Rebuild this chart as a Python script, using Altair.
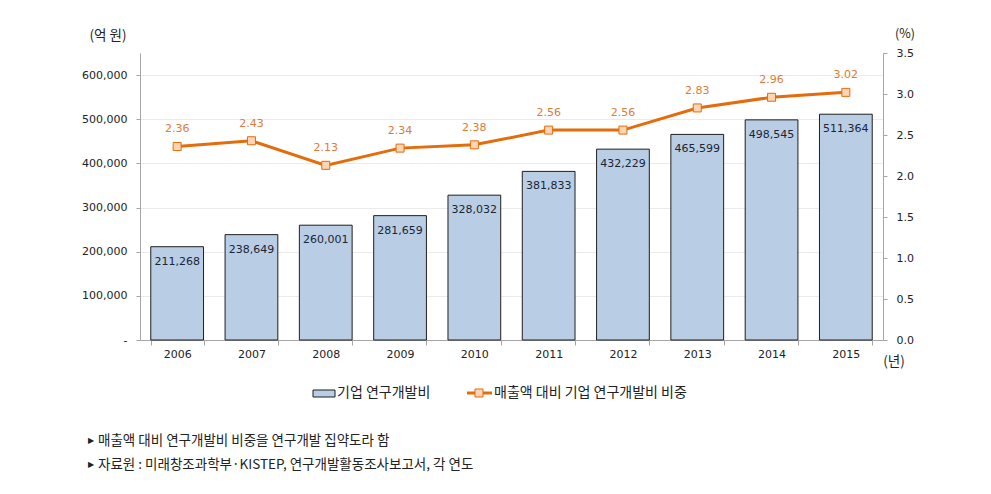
import altair as alt
import pandas as pd

years = ["2006", "2007", "2008", "2009", "2010", "2011", "2012", "2013", "2014", "2015"]
rd_spend = [211268, 238649, 260001, 281659, 328032, 381833, 432229, 465599, 498545, 511364]
rd_ratio = [2.36, 2.43, 2.13, 2.34, 2.38, 2.56, 2.56, 2.83, 2.96, 3.02]

left_ticks = [0, 100000, 200000, 300000, 400000, 500000, 600000]
right_ticks = [0.0, 0.5, 1.0, 1.5, 2.0, 2.5, 3.0, 3.5]

bar_name = "기업 연구개발비"
line_name = "매출액 대비 기업 연구개발비 비중"
unit_left = "(억 원)"
unit_right = "(%)"
unit_x = "(년)"
notes = ["매출액 대비 연구개발비 비중을 연구개발 집약도라 함",
         "자료원 : 미래창조과학부·KISTEP, 연구개발활동조사보고서, 각 연도"]

df = pd.DataFrame({"year": years, "rd": rd_spend, "ratio": rd_ratio})

NUMFONT = "DejaVu Sans"
KFONT = "Noto Sans CJK KR"
ORANGE = "#E46C0A"

x_enc = alt.X("year:N", title=None, sort=years,
              scale=alt.Scale(paddingInner=0.29, paddingOuter=0.145),
              axis=alt.Axis(labelAngle=0, tickBand="extent", domainColor="#A6A6A6",
                            tickColor="#A6A6A6", tickSize=5, labelFont=NUMFONT,
                            labelFontSize=11, labelColor="#222222", labelPadding=3))

y_left = alt.Y("rd:Q", title=None,
               scale=alt.Scale(domain=[0, 650000], nice=False),
               axis=alt.Axis(values=left_ticks, tickSize=4, labelPadding=9,
                             labelExpr="datum.value == 0 ? '-' : format(datum.value, ',')",
                             labelFont=NUMFONT, labelFontSize=11, labelColor="#222222",
                             domainColor="#A6A6A6", tickColor="#A6A6A6",
                             grid=True, gridColor="#EBEBEB"))

y_right = alt.Y("ratio:Q", title=None,
                scale=alt.Scale(domain=[0, 3.5], nice=False),
                axis=alt.Axis(orient="right", values=right_ticks, format=".1f",
                              tickSize=4, labelPadding=9, labelFont=NUMFONT,
                              labelFontSize=11, labelColor="#222222",
                              domainColor="#A6A6A6", tickColor="#A6A6A6", grid=False))

base = alt.Chart(df)

bars = base.mark_bar(color="#B9CDE5", stroke="#1F1F1F", strokeWidth=1).encode(x=x_enc, y=y_left)
bar_labels = base.mark_text(dy=15, font=NUMFONT, fontSize=11, color="#1B2533").encode(
    x=x_enc, y=y_left, text=alt.Text("rd:Q", format=","))

line = base.mark_line(color=ORANGE, strokeWidth=3).encode(x=x_enc, y=y_right)
points = base.mark_point(shape="square", filled=True, size=64, fill="#FCD5B5",
                         stroke=ORANGE, strokeWidth=1, opacity=1).encode(x=x_enc, y=y_right)
line_labels = base.mark_text(dy=-17, font=NUMFONT, fontSize=11, color="#E07B39").encode(
    x=x_enc, y=y_right, text=alt.Text("ratio:Q", format=".2f"))

left_group = alt.layer(bars, bar_labels)
right_group = alt.layer(line, points, line_labels)

def txt(t, x, y, font=KFONT, size=12, align="left", color="#222222"):
    return alt.Chart(pd.DataFrame({"t": [t]})).mark_text(
        font=font, fontSize=size, align=align, baseline="middle", color=color
    ).encode(x=alt.value(x), y=alt.value(y), text="t:N")

one = pd.DataFrame({"k": [0]})
leg_rect = alt.Chart(one).mark_rect(fill="#B9CDE5", stroke="#1F1F1F", strokeWidth=1).encode(
    x=alt.value(173), x2=alt.value(195), y=alt.value(337), y2=alt.value(344))
leg_line = alt.Chart(one).mark_rule(color=ORANGE, strokeWidth=3).encode(
    x=alt.value(327), x2=alt.value(352), y=alt.value(340))
leg_pt = alt.Chart(one).mark_point(shape="square", filled=True, size=64, fill="#FCD5B5",
                                   stroke=ORANGE, strokeWidth=1, opacity=1).encode(
    x=alt.value(339), y=alt.value(340))

annotations = [
    txt(unit_left, -32, -17, size=13.5, align="center"),
    txt(unit_right, 765, -19, size=12.5, align="center"),
    txt(unit_x, 754, 309, size=13.5, align="center"),
    leg_rect, leg_line, leg_pt,
    txt(bar_name, 197, 340, size=14),
    txt(line_name, 354, 340, size=14),
    txt("▶", -52, 388, font=NUMFONT, size=8),
    txt(notes[0], -42, 388, size=13.5),
    txt("▶", -52, 412, font=NUMFONT, size=8),
    txt(notes[1], -42, 412, size=13.5),
]

chart = alt.layer(left_group, right_group, *annotations).resolve_scale(
    y="independent"
).properties(
    width=743, height=287,
    autosize="none",
    padding={"left": 132, "top": 45, "right": 98, "bottom": 144},
    background="white",
).configure_view(stroke=None)

chart.save("out.html", embed_options={"renderer": "svg", "actions": False})
